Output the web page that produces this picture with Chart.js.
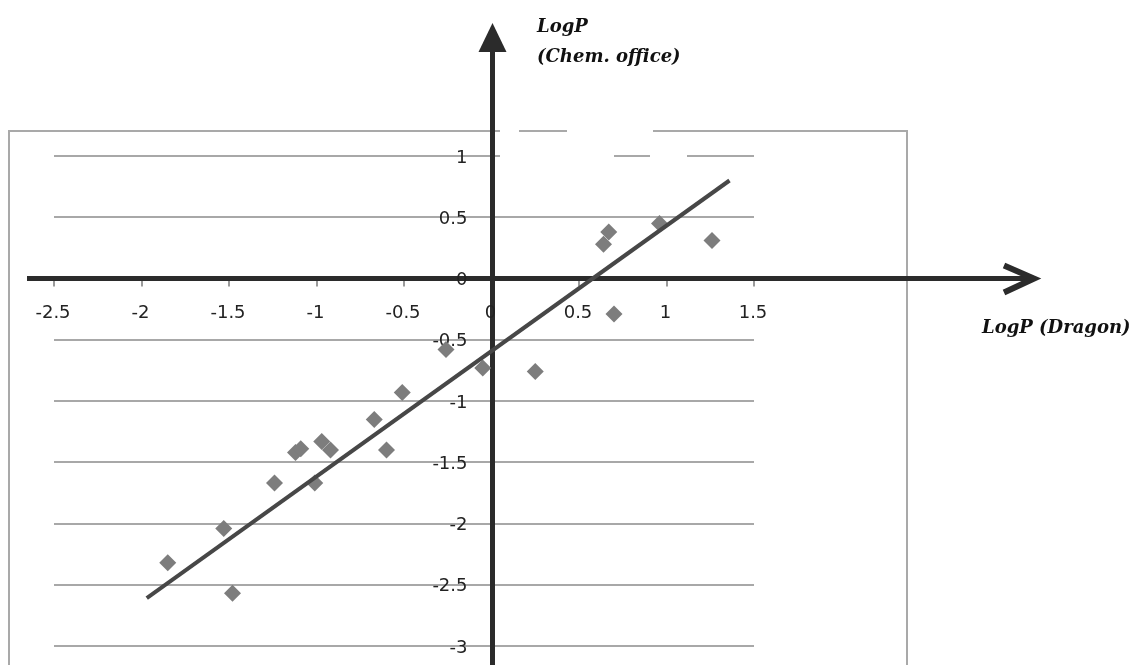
<!DOCTYPE html>
<html>
<head>
<meta charset="utf-8">
<title>LogP Dragon vs Chem. office</title>
<script src="https://cdn.jsdelivr.net/npm/chart.js@4.4.1/dist/chart.umd.min.js"></script>
<style>
  html, body { margin: 0; padding: 0; background: #fff; }
  #wrap { width: 1139px; height: 665px; }
</style>
</head>
<body>
<div id="wrap"><canvas id="chart" width="1139" height="665"></canvas></div>
<script>
// Values.
const logpDragon = [-1.85, -1.53, -1.48, -1.24, -1.12, -1.09, -1.01, -0.97, -0.92, -0.67,
  -0.60, -0.51, -0.26, -0.05, 0.25, 0.64, 0.67, 0.70, 0.96, 1.26];
const logpChem = [-2.32, -2.04, -2.57, -1.67, -1.42, -1.39, -1.67, -1.33, -1.40, -1.15,
  -1.40, -0.93, -0.58, -0.73, -0.76, 0.28, 0.38, -0.29, 0.45, 0.31];
// trend line end points
const trendX = [-1.97, 1.36];
const trendY = [-2.61, 0.80];

const xTickLabels = ["-2.5", "-2", "-1.5", "-1", "-0.5", "0", "0.5", "1", "1.5"];
const yTickLabels = ["1", "0.5", "0", "-0.5", "-1", "-1.5", "-2", "-2.5", "-3"];

const AXIS = "#2b2b2b";
const TICK_FONT = "18px 'DejaVu Sans'";
const TITLE_FONT = "italic bold 18px 'DejaVu Serif'";

const points = logpDragon.map((x, i) => ({ x, y: logpChem[i] }));
const trend = trendX.map((x, i) => ({ x, y: trendY[i] }));

const crossAxes = {
  id: "crossAxes",
  beforeDatasetsDraw(chart) {
    const { ctx } = chart;
    const xs = chart.scales.x;
    const ys = chart.scales.y;
    const x0 = xs.getPixelForValue(0) + 1;
    const y0 = ys.getPixelForValue(0);
    ctx.save();

    // outer frame (broken along the top, as in the source image)
    ctx.strokeStyle = "#a9a9a9";
    ctx.lineWidth = 2;
    ctx.beginPath();
    ctx.moveTo(9, 666); ctx.lineTo(9, 131); ctx.lineTo(500, 131);
    ctx.moveTo(519, 131); ctx.lineTo(567, 131);
    ctx.moveTo(653, 131); ctx.lineTo(907, 131); ctx.lineTo(907, 666);
    ctx.stroke();

    // gaps in the top gridline
    const yTop = ys.getPixelForValue(1);
    ctx.fillStyle = "#fff";
    ctx.fillRect(500, yTop - 3, 114, 6);
    ctx.fillRect(650, yTop - 3, 37, 6);

    // small tick marks under the x axis
    ctx.strokeStyle = "#9a9a9a";
    ctx.lineWidth = 2;
    xTickLabels.forEach((t) => {
      const px = Math.round(xs.getPixelForValue(Number(t)));
      ctx.beginPath(); ctx.moveTo(px, y0); ctx.lineTo(px, y0 + 8); ctx.stroke();
    });

    // axes through the origin
    ctx.strokeStyle = AXIS;
    ctx.lineWidth = 5;
    ctx.beginPath();
    ctx.moveTo(27, y0); ctx.lineTo(1032, y0);
    ctx.moveTo(x0, 666); ctx.lineTo(x0, 45);
    ctx.stroke();
    ctx.lineJoin = "miter";
    ctx.lineWidth = 6;
    ctx.beginPath();
    ctx.moveTo(1004, y0 - 13); ctx.lineTo(1034, y0); ctx.lineTo(1004, y0 + 14);
    ctx.stroke();
    ctx.fillStyle = AXIS;
    ctx.beginPath();
    ctx.moveTo(x0, 23); ctx.lineTo(x0 - 14, 52); ctx.lineTo(x0 + 14, 52);
    ctx.closePath();
    ctx.fill();

    // tick labels
    ctx.fillStyle = "#222";
    ctx.font = TICK_FONT;
    ctx.textBaseline = "middle";
    ctx.textAlign = "center";
    xTickLabels.forEach((t) => {
      ctx.fillText(t, xs.getPixelForValue(Number(t)) - 1, y0 + 35);
    });
    ctx.textAlign = "right";
    yTickLabels.forEach((t) => {
      ctx.fillText(t, x0 - 25, ys.getPixelForValue(Number(t)) + 2);
    });

    // axis titles
    ctx.fillStyle = "#111";
    ctx.font = TITLE_FONT;
    ctx.textAlign = "left";
    ctx.fillText("LogP", 537, 27);
    ctx.fillText("(Chem. office)", 537, 57);
    ctx.fillText("LogP (Dragon)", 982, 328);
    ctx.restore();
  }
};

new Chart(document.getElementById("chart"), {
  type: "scatter",
  data: {
    datasets: [
      {
        label: "trend",
        data: trend,
        showLine: true,
        borderColor: "#474747",
        borderWidth: 4,
        pointRadius: 0,
        order: 0
      },
      {
        label: "LogP",
        data: points,
        pointStyle: "rectRot",
        pointRadius: 8.5,
        backgroundColor: "#7d7d7d",
        borderColor: "#7d7d7d",
        borderWidth: 0,
        order: 1
      }
    ]
  },
  options: {
    responsive: false,
    animation: false,
    layout: { padding: { left: 54, right: 385, top: 156, bottom: 19 } },
    plugins: { legend: { display: false }, tooltip: { enabled: false } },
    scales: {
      x: {
        type: "linear",
        min: -2.5,
        max: 1.5,
        ticks: { display: false, stepSize: 0.5 },
        grid: { display: false, drawTicks: false },
        border: { display: false }
      },
      y: {
        type: "linear",
        min: -3,
        max: 1,
        ticks: { display: false, stepSize: 0.5 },
        grid: { color: "#a8a8a8", lineWidth: 2, drawTicks: false },
        border: { display: false }
      }
    }
  },
  plugins: [crossAxes]
});
</script>
</body>
</html>
